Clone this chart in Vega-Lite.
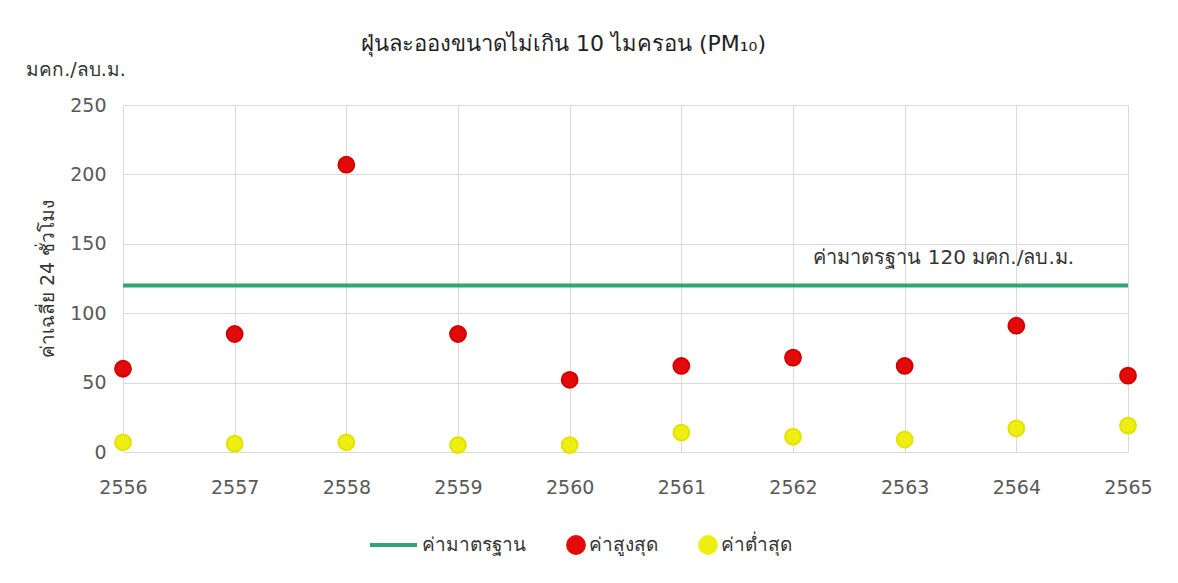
{
  "$schema": "https://vega.github.io/schema/vega-lite/v6.json",
  "autosize": {"type": "none"},
  "width": 1005,
  "height": 347,
  "padding": {"left": 123, "top": 105, "right": 50, "bottom": 131},
  "background": "white",
  "title": {
    "text": "ฝุ่นละอองขนาดไม่เกิน 10 ไมครอน (PM₁₀)",
    "anchor": "middle",
    "dx": -62,
    "offset": 5,
    "fontSize": 22,
    "fontWeight": "normal",
    "color": "#222222",
    "font": "DejaVu Sans"
  },
  "config": {
    "view": {"stroke": null},
    "font": "DejaVu Sans",
    "axis": {
      "labelFont": "DejaVu Sans",
      "labelFontSize": 19,
      "labelColor": "#595959",
      "gridColor": "#d9d9d9",
      "gridWidth": 1,
      "domain": false,
      "ticks": false
    }
  },
  "datasets": {
    "pm": [
      {"year": 2556, "type": "ค่าสูงสุด", "value": 60},
      {"year": 2557, "type": "ค่าสูงสุด", "value": 85},
      {"year": 2558, "type": "ค่าสูงสุด", "value": 207},
      {"year": 2559, "type": "ค่าสูงสุด", "value": 85},
      {"year": 2560, "type": "ค่าสูงสุด", "value": 52},
      {"year": 2561, "type": "ค่าสูงสุด", "value": 62},
      {"year": 2562, "type": "ค่าสูงสุด", "value": 68},
      {"year": 2563, "type": "ค่าสูงสุด", "value": 62},
      {"year": 2564, "type": "ค่าสูงสุด", "value": 91},
      {"year": 2565, "type": "ค่าสูงสุด", "value": 55},
      {"year": 2556, "type": "ค่าต่ำสุด", "value": 7},
      {"year": 2557, "type": "ค่าต่ำสุด", "value": 6},
      {"year": 2558, "type": "ค่าต่ำสุด", "value": 7},
      {"year": 2559, "type": "ค่าต่ำสุด", "value": 5},
      {"year": 2560, "type": "ค่าต่ำสุด", "value": 5},
      {"year": 2561, "type": "ค่าต่ำสุด", "value": 14},
      {"year": 2562, "type": "ค่าต่ำสุด", "value": 11},
      {"year": 2563, "type": "ค่าต่ำสุด", "value": 9},
      {"year": 2564, "type": "ค่าต่ำสุด", "value": 17},
      {"year": 2565, "type": "ค่าต่ำสุด", "value": 19}
    ]
  },
  "layer": [
    {
      "data": {"values": [{}]},
      "mark": {"type": "rule", "strokeWidth": 4},
      "encoding": {
        "y": {"datum": 120, "type": "quantitative", "scale": {"domain": [0, 250]}},
        "color": {"datum": "ค่ามาตรฐาน", "type": "nominal"}
      }
    },
    {
      "data": {"name": "pm"},
      "mark": {"type": "point", "filled": true, "opacity": 1, "strokeWidth": 2},
      "encoding": {
        "x": {
          "field": "year",
          "type": "quantitative",
          "scale": {"domain": [2556, 2565], "nice": false, "zero": false},
          "axis": {
            "title": null,
            "values": [2556, 2557, 2558, 2559, 2560, 2561, 2562, 2563, 2564, 2565],
            "format": "d",
            "labelPadding": 26,
            "labelFlush": false,
            "grid": true
          }
        },
        "y": {
          "field": "value",
          "type": "quantitative",
          "scale": {"domain": [0, 250], "nice": false},
          "axis": {
            "title": "ค่าเฉลี่ย 24 ชั่วโมง",
            "titleFont": "DejaVu Sans",
            "titleFontSize": 19,
            "titleFontWeight": "normal",
            "titleColor": "#333333",
            "titlePadding": 12,
            "values": [0, 50, 100, 150, 200, 250],
            "labelPadding": 17,
            "labelFlush": false,
            "grid": true
          }
        },
        "color": {
          "field": "type",
          "type": "nominal",
          "scale": {
            "domain": ["ค่ามาตรฐาน", "ค่าสูงสุด", "ค่าต่ำสุด"],
            "range": ["#2ea572", "#e30a0a", "#eeee10"]
          },
          "legend": {
            "title": null,
            "orient": "none",
            "direction": "horizontal",
            "legendX": 245,
            "legendY": 430,
            "clipHeight": 20,
            "labelFont": "DejaVu Sans",
            "labelFontSize": 19,
            "labelColor": "#333333",
            "symbolStrokeWidth": 4,
            "columnPadding": 40,
            "labelOffset": 3
          }
        },
        "stroke": {
          "field": "type",
          "type": "nominal",
          "scale": {
            "domain": ["ค่ามาตรฐาน", "ค่าสูงสุด", "ค่าต่ำสุด"],
            "range": ["#2ea572", "#d00000", "#e2e200"]
          },
          "legend": null
        },
        "shape": {
          "field": "type",
          "type": "nominal",
          "scale": {
            "domain": ["ค่ามาตรฐาน", "ค่าสูงสุด", "ค่าต่ำสุด"],
            "range": ["stroke", "circle", "circle"]
          },
          "legend": null
        },
        "size": {
          "field": "type",
          "type": "nominal",
          "scale": {
            "type": "ordinal",
            "domain": ["ค่ามาตรฐาน", "ค่าสูงสุด", "ค่าต่ำสุด"],
            "range": [2209, 250, 250]
          },
          "legend": null
        }
      }
    },
    {
      "data": {"values": [{}]},
      "mark": {"type": "text", "fontSize": 20, "color": "#333333", "font": "DejaVu Sans"},
      "encoding": {
        "x": {"datum": 2563.35, "type": "quantitative"},
        "y": {"datum": 139.5, "type": "quantitative"},
        "text": {"value": "ค่ามาตรฐาน 120 มคก./ลบ.ม."}
      }
    },
    {
      "data": {"values": [{}]},
      "mark": {"type": "text", "fontSize": 19, "color": "#333333", "font": "DejaVu Sans", "align": "center", "clip": false},
      "encoding": {
        "x": {"datum": 2555.58, "type": "quantitative"},
        "y": {"datum": 275, "type": "quantitative"},
        "text": {"value": "มคก./ลบ.ม."}
      }
    }
  ]
}
